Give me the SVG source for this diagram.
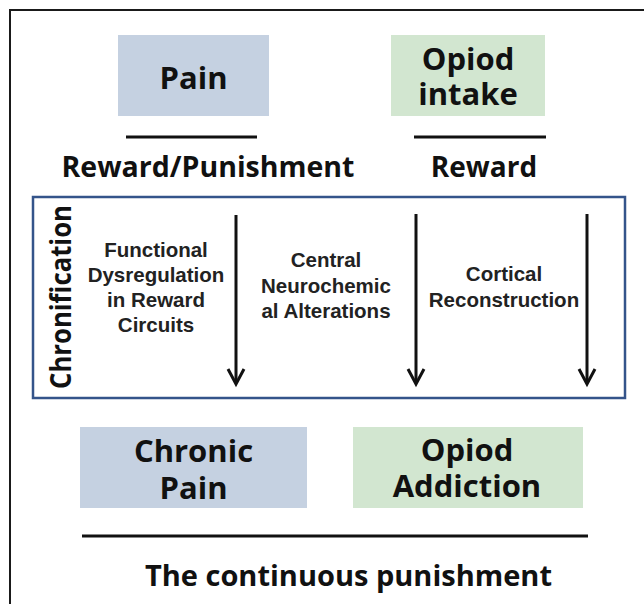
<svg xmlns="http://www.w3.org/2000/svg" width="644" height="604" viewBox="0 0 644 604">
<style>
.head{font-family:"Open Sans","Noto Sans",sans-serif;font-weight:700;fill:#111;text-anchor:middle}
.inner{font-family:"Liberation Sans",Arial,sans-serif;font-weight:700;font-size:20.5px;fill:#222;text-anchor:middle}
.rule{stroke:#111;stroke-width:3;fill:none}
.arrow{stroke:#111;stroke-width:3;fill:none}
.blue{fill:#C5D1E1}
.green{fill:#D2E6D0}
</style>
<rect x="10" y="10" width="700" height="700" fill="#fff" stroke="#1a1a1a" stroke-width="2"/>
<g id="pain">
<rect class="blue" x="118" y="35" width="151" height="81"/>
<text class="head" x="193.5" y="89" font-size="31">Pain</text>
</g>
<g id="opioid-intake">
<rect class="green" x="391" y="35" width="154" height="81"/>
<text class="head" x="468" y="70" font-size="31">Opiod</text>
<text class="head" x="468" y="105" font-size="31">intake</text>
</g>
<g id="reward-punishment">
<line class="rule" x1="126" y1="137" x2="257" y2="137"/>
<text class="head" x="208" y="177" font-size="28.5">Reward/Punishment</text>
</g>
<g id="reward">
<line class="rule" x1="414" y1="137" x2="546" y2="137"/>
<text class="head" x="484" y="177" font-size="28">Reward</text>
</g>
<g id="chronification">
<rect x="33" y="197" width="592" height="201" fill="#fff" stroke="#34548A" stroke-width="2.5"/>
<text class="head" transform="translate(71,297) rotate(-90)" font-size="28" textLength="184" lengthAdjust="spacingAndGlyphs">Chronification</text>
</g>
<g id="functional-dysregulation">
<text class="inner" x="156" y="257">Functional</text>
<text class="inner" x="156" y="282">Dysregulation</text>
<text class="inner" x="156" y="307">in Reward</text>
<text class="inner" x="156" y="332">Circuits</text>
</g>
<g id="central-neurochemical">
<text class="inner" x="326" y="267">Central</text>
<text class="inner" x="326" y="293">Neurochemic</text>
<text class="inner" x="326" y="318">al Alterations</text>
</g>
<g id="cortical-reconstruction">
<text class="inner" x="504" y="281">Cortical</text>
<text class="inner" x="504" y="307">Reconstruction</text>
</g>
<g id="connectors">
<line class="arrow" x1="236" y1="215" x2="236" y2="383"/>
<path class="arrow" d="M228,369 L236,384 L244,369"/>
<line class="arrow" x1="416" y1="214" x2="416" y2="383"/>
<path class="arrow" d="M408,369 L416,384 L424,369"/>
<line class="arrow" x1="587" y1="214" x2="587" y2="383"/>
<path class="arrow" d="M579,369 L587,384 L595,369"/>
</g>
<g id="chronic-pain">
<rect class="blue" x="80" y="427" width="227" height="81"/>
<text class="head" x="193.5" y="462" font-size="31">Chronic</text>
<text class="head" x="193.5" y="499" font-size="31">Pain</text>
</g>
<g id="opioid-addiction">
<rect class="green" x="353" y="427" width="230" height="81"/>
<text class="head" x="467" y="461" font-size="31">Opiod</text>
<text class="head" x="467" y="497" font-size="31">Addiction</text>
</g>
<g id="continuous-punishment">
<line class="rule" x1="82" y1="536" x2="588" y2="536"/>
<text class="head" x="348.5" y="586" font-size="29">The continuous punishment</text>
</g>
</svg>
